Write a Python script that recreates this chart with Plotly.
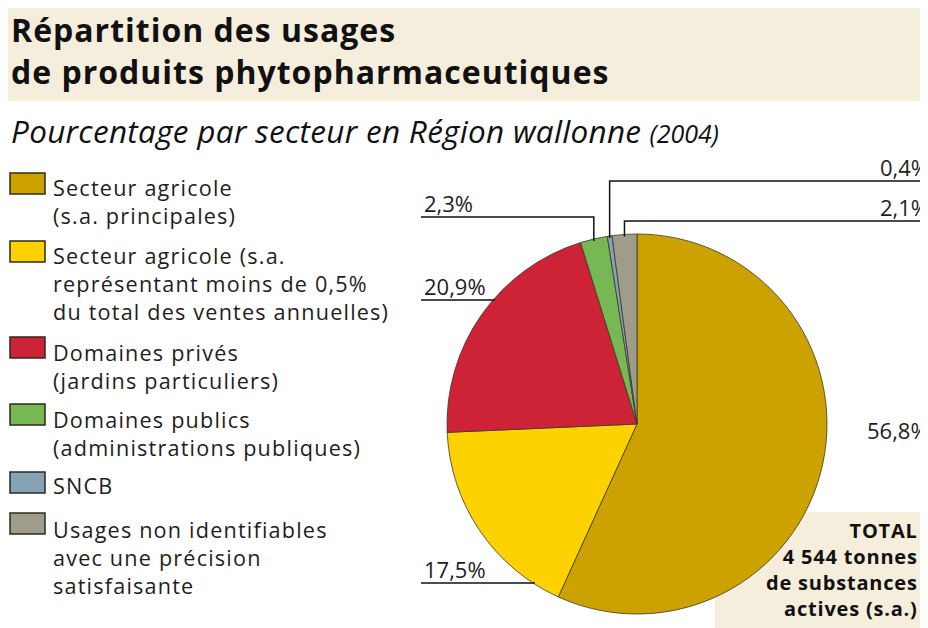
import plotly.graph_objects as go
import math

# ---- data ----
category_lines = [
    ["Secteur agricole", "(s.a. principales)"],
    ["Secteur agricole (s.a.", "représentant moins de 0,5%", "du total des ventes annuelles)"],
    ["Domaines privés", "(jardins particuliers)"],
    ["Domaines publics", "(administrations publiques)"],
    ["SNCB"],
    ["Usages non identifiables", "avec une précision", "satisfaisante"],
]
values = [56.8, 17.5, 20.9, 2.3, 0.4, 2.1]
value_labels = ["56,8%", "17,5%", "20,9%", "2,3%", "0,4%", "2,1%"]
colors = ["#CBA200", "#FDD200", "#CE2336", "#77B855", "#85A3B5", "#9F9C8A"]

title_lines = ["Répartition des usages", "de produits phytopharmaceutiques"]
subtitle = "Pourcentage par secteur en Région wallonne"
subtitle_year = "(2004)"
total_lines = ["TOTAL", "4 544 tonnes", "de substances", "actives (s.a.)"]

# screen geometry: page body has an 8px margin, so the figure is offset
OX, OY = 8, 8
W, H = 920, 620
SW = 928
FONT = "Open Sans"
TXT = "#1e1e1e"


def xp(px):
    return (px - OX) / W


def yp(py):
    return 1 - (py - OY) / H


def spaced(s, ls):
    return f"<span style='letter-spacing:{ls}px'>{s}</span>"


def text(x, y, s, size, xanchor="left", yanchor="middle", color=TXT, family=FONT):
    return dict(xref="paper", yref="paper", x=xp(x), y=yp(y), xanchor=xanchor,
                yanchor=yanchor, showarrow=False, text=s,
                align="right" if xanchor == "right" else "left",
                font=dict(family=family, size=size, color=color))


# pie geometry (screen pixels)
CX, CY, R = 637, 424, 190

fig = go.Figure()
fig.add_trace(go.Pie(
    labels=[" ".join(c) for c in category_lines],
    values=values,
    sort=False,
    direction="clockwise",
    rotation=0,
    marker=dict(colors=colors, line=dict(color="#3a3626", width=0.8)),
    textinfo="none",
    hoverinfo="label+value",
    showlegend=False,
    domain=dict(x=[xp(CX - R), xp(CX + R)], y=[yp(CY + R), yp(CY - R)]),
))

shapes = []
annotations = []

# title band
shapes.append(dict(type="rect", xref="paper", yref="paper", layer="below",
                   x0=xp(OX), x1=xp(SW), y0=yp(101), y1=yp(OY),
                   fillcolor="#F6EEDC", line=dict(width=0)))
# total box
shapes.append(dict(type="rect", xref="paper", yref="paper", layer="below",
                   x0=xp(715), x1=xp(SW), y0=yp(628), y1=yp(512),
                   fillcolor="#F6EEDC", line=dict(width=0)))

# title (one block, two lines)
annotations.append(text(9, 51, "<br>".join("<b>" + spaced(s, 1.0) + "</b>" for s in title_lines),
                        32, color="#111111"))

# subtitle
annotations.append(text(9, 131, "<i>" + spaced(subtitle, 0.3) +
                        " <span style='font-size:25px'>" + subtitle_year + "</span></i>",
                        31.5, color="#111111"))

# legend (custom)
sq_top = [173, 241, 337, 404, 472, 513]
first_base = [195, 263, 360, 427, 493, 537]
LSIZE = 21.6
LINE_H = 1.3 * LSIZE
for lines, col, t, b in zip(category_lines, colors, sq_top, first_base):
    shapes.append(dict(type="rect", xref="paper", yref="paper",
                       x0=xp(10), x1=xp(45), y0=yp(t + 21), y1=yp(t),
                       fillcolor=col, line=dict(color="#2e2a20", width=1.5)))
    last = b + (len(lines) - 1) * LINE_H
    annotations.append(text(51, (b + last) / 2 - 7.5,
                            "<br>".join(spaced(s, 1.2) for s in lines), LSIZE))

# slice angles
total = sum(values)
cum = 0
mid_angles = []
for v in values:
    mid_angles.append((cum + v / 2) / total * 2 * math.pi)
    cum += v


def edge_point(a):
    return CX + R * math.sin(a), CY - R * math.cos(a)


def circle_x_left(y):
    return CX - math.sqrt(max(R * R - (y - CY) ** 2, 0))


line_style = dict(color="#111111", width=1.5)
PSIZE = 22

# left labels with horizontal leaders hitting the circle: index -> y of leader
for i, ly in [(2, 300), (1, 583)]:
    xe = circle_x_left(ly) + 2
    shapes.append(dict(type="line", xref="paper", yref="paper",
                       x0=xp(421), x1=xp(xe), y0=yp(ly), y1=yp(ly), line=line_style))
    annotations.append(text(422, ly - 14, value_labels[i], PSIZE))

# left elbow label (green)
i = 3
ex, ey = edge_point(mid_angles[i])
ly = 217
shapes.append(dict(type="path", xref="paper", yref="paper",
                   path=f"M {xp(421)} {yp(ly)} L {xp(ex)} {yp(ly)} L {xp(ex)} {yp(ey + 2)}",
                   line=line_style))
annotations.append(text(422, ly - 14, value_labels[i], PSIZE))

# right elbow labels
for i, ly in [(4, 181), (5, 221)]:
    ex, ey = edge_point(mid_angles[i])
    shapes.append(dict(type="path", xref="paper", yref="paper",
                       path=f"M {xp(SW + 2)} {yp(ly)} L {xp(ex)} {yp(ly)} L {xp(ex)} {yp(ey + 2)}",
                       line=line_style))
    annotations.append(text(SW + 3, ly - 14, value_labels[i], PSIZE, xanchor="right"))

# big slice label
annotations.append(text(SW + 3, 430, value_labels[0], PSIZE, xanchor="right"))

# total text (one block)
TSIZE = 20
annotations.append(text(920, (537 + 537 + 3 * 1.3 * TSIZE) / 2 - 7,
                        "<br>".join("<b>" + spaced(s, 0.8) + "</b>" for s in total_lines),
                        TSIZE, xanchor="right", color="#111111"))

fig.update_layout(
    width=W, height=H,
    margin=dict(l=0, r=0, t=0, b=0),
    paper_bgcolor="white", plot_bgcolor="white",
    shapes=shapes, annotations=annotations,
    showlegend=False,
)
fig.write_html("out.html")
